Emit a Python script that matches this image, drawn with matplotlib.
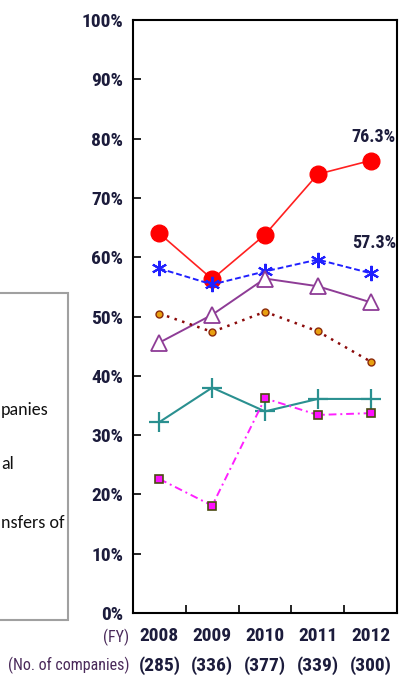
import matplotlib
matplotlib.use("Agg")
import matplotlib.pyplot as plt
from matplotlib.patches import Rectangle
import numpy as np

years = ["2008", "2009", "2010", "2011", "2012"]
companies = ["(285)", "(336)", "(377)", "(339)", "(300)"]

red_vals = [64.0, 56.3, 63.8, 74.0, 76.3]
blue_vals = [58.1, 55.4, 57.6, 59.6, 57.3]
purple_vals = [45.6, 50.3, 56.4, 55.1, 52.4]
brown_vals = [50.5, 47.4, 50.8, 47.5, 42.4]
teal_vals = [32.2, 38.0, 34.0, 36.1, 36.1]
magenta_vals = [22.6, 18.1, 36.2, 33.4, 33.7]

legend_bits = ["panies", "al", "nsfers of"]

narrow = ["Roboto Condensed", "PT Sans Narrow", "Liberation Sans Narrow", "DejaVu Sans"]
tick_col = "#1c1c3c"

fig = plt.figure(figsize=(4.04, 6.85), dpi=100)
ax = fig.add_axes([133/404, 1 - 613/685, 264/404, 593/685])
x = np.arange(len(years))

ax.plot(x, red_vals, color="#ff2020", lw=1.2, marker="o", ms=12,
        mfc="#ff0000", mec="#ff0000", zorder=2)
ax.plot(x, blue_vals, color="#2020ff", lw=1.4, ls=(0, (3, 1.5)), marker=(6, 2, 0),
        ms=11, mec="#2020ff", mew=1.5, zorder=3)
ax.plot(x, purple_vals, color="#8e3c96", lw=1.4, marker="^", ms=11,
        mfc="white", mec="#8e3c96", mew=1.3, zorder=3)
ax.plot(x, brown_vals, color="#8b0a0a", lw=1.8, ls=(0, (1, 2.2)), marker="o", ms=5,
        mfc="#e8a010", mec="#8b2a0a", mew=1.0, zorder=3)
ax.plot(x, teal_vals, color="#2a9090", lw=1.5, marker="+", ms=14,
        mec="#2a9090", mew=1.6, zorder=3)
ax.plot(x, magenta_vals, color="#ff20ff", lw=1.4, ls=(0, (4, 2, 1, 2)), marker="s", ms=6,
        mfc="#ff10ff", mec="#4a4a10", mew=1.2, zorder=3)

ax.text(4.47, 80.3, f"{red_vals[4]}%", ha="right", va="center",
        fontsize=13, fontweight="bold", family=narrow, color=tick_col)
ax.text(4.49, 62.4, f"{blue_vals[4]}%", ha="right", va="center",
        fontsize=13, fontweight="bold", family=narrow, color=tick_col)

ax.set_xlim(-0.5, 4.5)
ax.set_ylim(0, 100)
ax.set_yticks(np.arange(0, 101, 10))
ax.set_yticklabels([f"{v}%" for v in range(0, 101, 10)], fontsize=14,
                   fontweight="bold", family=narrow, color=tick_col)
ax.tick_params(axis="y", direction="in", length=6, width=1.2, pad=7)
ax.set_xticks(x)
ax.set_xticklabels([])
ax.tick_params(axis="x", length=0)
ax.set_xticks(np.arange(0.5, 4.5, 1), minor=True)
ax.tick_params(axis="x", which="minor", direction="in", length=6, width=1.2)
for s in ax.spines.values():
    s.set_linewidth(1.5)

for i in range(len(years)):
    ax.text(i, -3.9, years[i], ha="center", va="center", fontsize=14,
            fontweight="bold", family=narrow, color=tick_col, clip_on=False)
    ax.text(i, -8.8, companies[i], ha="center", va="center", fontsize=14,
            fontweight="bold", family=narrow, color=tick_col, clip_on=False)

fig.text(129/404, 1 - 637/685, "(FY)", ha="right", va="center", fontsize=11.5,
         family=narrow, color="#4a2a5a")
fig.text(129/404, 1 - 665/685, "(No. of companies)", ha="right", va="center", fontsize=11.5,
         family=narrow, color="#4a2a5a")

# legend frame, mostly cut off at the left edge
fig.patches.append(Rectangle((-5/404, 1 - 620/685), 73/404, 327/685,
                             transform=fig.transFigure, fill=False,
                             edgecolor="#a0a0a0", lw=1.5))
for txt, yy in zip(legend_bits, [410, 464, 523]):
    fig.text(1/404, 1 - yy/685, txt, ha="left", va="center", fontsize=13,
             family=["Carlito", "Open Sans", "DejaVu Sans"], color="#111111")

fig.savefig("out.png", dpi=100)
